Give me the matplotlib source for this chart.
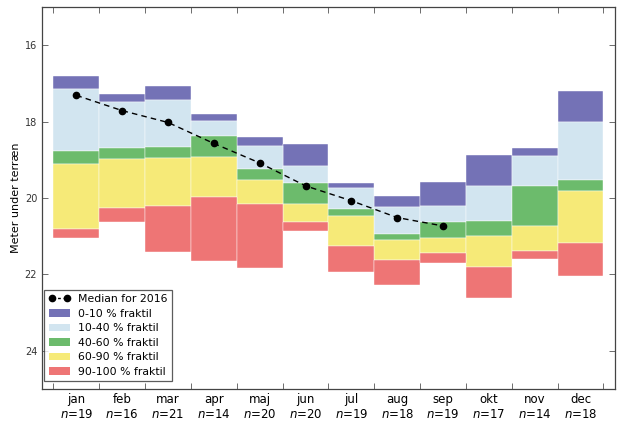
import matplotlib
matplotlib.use("Agg")
import matplotlib.pyplot as plt
import numpy as np
from matplotlib.patches import Patch
from matplotlib.lines import Line2D

months = ["jan", "feb", "mar", "apr", "maj", "jun", "jul", "aug", "sep", "okt", "nov", "dec"]
n_counts = [19, 16, 21, 14, 20, 20, 19, 18, 19, 17, 14, 18]

# Quantile boundaries (meter under terrain)
q0 = [16.79, 17.27, 17.07, 17.79, 18.40, 18.59, 19.60, 19.94, 19.58, 18.88, 18.68, 17.20]   # 0 %
q10 = [17.15, 17.48, 17.42, 17.99, 18.64, 19.17, 19.73, 20.23, 20.20, 19.69, 18.91, 18.02]  # 10 %
q40 = [18.77, 18.69, 18.66, 18.38, 19.25, 19.60, 20.29, 20.95, 20.62, 20.60, 19.69, 19.53]  # 40 %
q60 = [19.12, 18.98, 18.94, 18.92, 19.53, 20.16, 20.48, 21.09, 21.04, 21.00, 20.73, 19.81]  # 60 %
q90 = [20.80, 20.26, 20.21, 19.97, 20.16, 20.62, 21.25, 21.63, 21.44, 21.80, 21.39, 21.17]  # 90 %
q100 = [21.04, 20.62, 21.41, 21.65, 21.82, 20.87, 21.93, 22.28, 21.70, 22.61, 21.60, 22.05] # 100 %

median_2016 = [17.31, 17.71, 18.02, 18.57, 19.08, 19.68, 20.07, 20.51, 20.73]

labels = ["0-10 % fraktil", "10-40 % fraktil", "40-60 % fraktil", "60-90 % fraktil", "90-100 % fraktil"]
colors = ["#7472b6", "#d2e5f0", "#6cbb6c", "#f6ea78", "#ee7575"]

fig = plt.figure(figsize=(6.18, 4.21), dpi=100)
ax = fig.add_axes([0.068, 0.076, 0.927, 0.907])

bounds = [q0, q10, q40, q60, q90, q100]
x = np.arange(len(months))
for i in range(5):
    top = np.array(bounds[i])
    bot = np.array(bounds[i + 1])
    ax.bar(x, bot - top, bottom=top, width=1.0, align="edge", color=colors[i],
           edgecolor="white", linewidth=0.3)

mx = np.arange(len(median_2016)) + 0.5
ax.plot(mx, median_2016, "k--", marker="o", markersize=4.5, linewidth=1.0, dashes=(4, 3))

ax.set_xlim(-0.25, 12.25)
ax.set_ylim(25, 15)
ax.set_yticks([16, 18, 20, 22, 24])
ax.set_xticks(np.arange(13))
ax.set_xticklabels([])
ax.set_xticks(x + 0.5, minor=True)
ax.set_xticklabels([f"{m}\n$n$={c}" for m, c in zip(months, n_counts)], minor=True, fontsize=8.5)
ax.tick_params(axis="x", which="minor", length=0, pad=3)
ax.tick_params(axis="both", which="major", direction="in", top=True, right=True,
               length=4, width=0.6, color="#555555")
ax.tick_params(axis="y", labelsize=7, labelcolor="#333333")
ax.set_ylabel("Meter under terræn", fontsize=8)
ax.yaxis.set_label_coords(-0.036, 0.5)
for s in ax.spines.values():
    s.set_linewidth(0.9)
    s.set_color("#444444")

handles = [Line2D([0], [0], color="k", linestyle="--", marker="o", markersize=4.5,
                  linewidth=1.0, dashes=(2, 2))]
handles += [Patch(facecolor=c, edgecolor="none") for c in colors]
leg = ax.legend(handles, ["Median for 2016"] + labels, loc="lower left", fontsize=7.8,
                numpoints=2, frameon=True, fancybox=False, handlelength=2.0,
                handletextpad=0.7, bbox_to_anchor=(0.004, 0.02),
                borderaxespad=0.0, labelspacing=0.42)
leg.get_frame().set_edgecolor("#333333")
leg.get_frame().set_linewidth(0.9)

fig.savefig("out.png", dpi=100)
